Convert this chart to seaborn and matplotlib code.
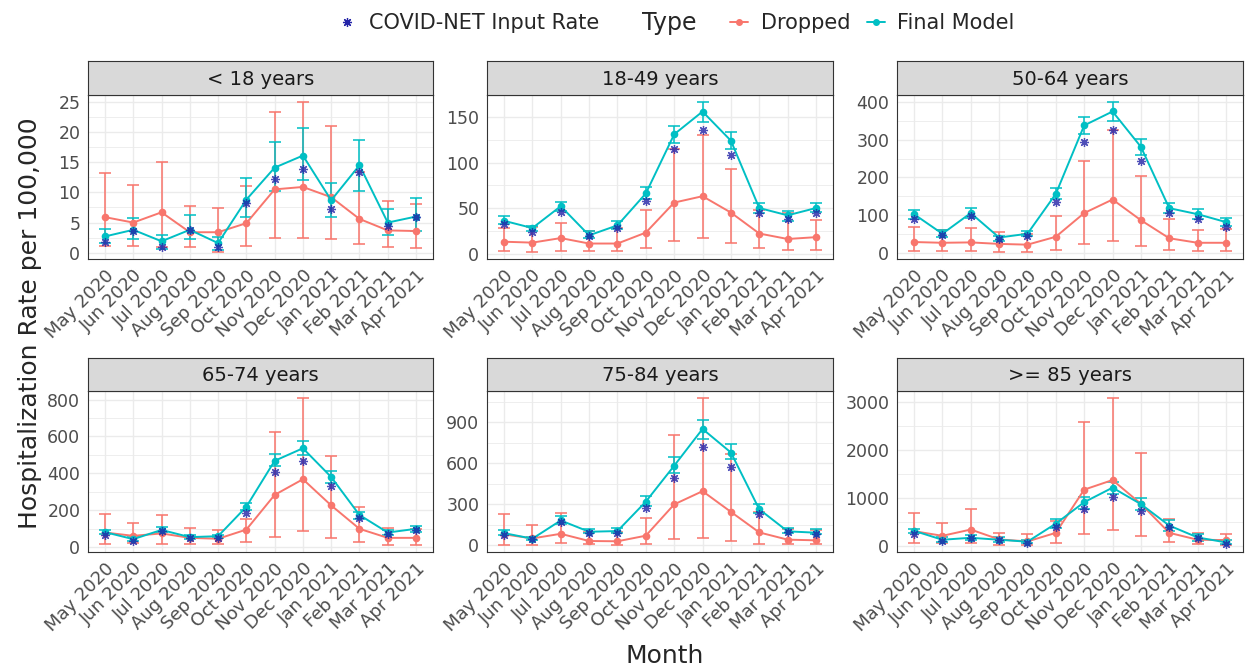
import numpy as np
import pandas as pd
import matplotlib
matplotlib.use('Agg')
import matplotlib.pyplot as plt
import seaborn as sns
from matplotlib.lines import Line2D
from matplotlib.ticker import FixedLocator

# -----------------
# data
# -----------------
months = ['May 2020', 'Jun 2020', 'Jul 2020', 'Aug 2020', 'Sep 2020', 'Oct 2020',
          'Nov 2020', 'Dec 2020', 'Jan 2021', 'Feb 2021', 'Mar 2021', 'Apr 2021']
groups = ['< 18 years', '18-49 years', '50-64 years', '65-74 years', '75-84 years', '>= 85 years']

final_rate = {
    '< 18 years':  [2.7, 3.8, 1.9, 3.8, 1.6, 8.8, 14.1, 16.1, 8.7, 14.5, 5.0, 6.0],
    '18-49 years': [36, 28, 52, 20, 31, 66, 131, 156, 124, 50, 42, 50],
    '50-64 years': [102, 50, 105, 40, 50, 156, 338, 375, 281, 118, 102, 81],
    '65-74 years': [81, 43, 93, 54, 59, 219, 468, 536, 380, 174, 79, 99],
    '75-84 years': [87, 46, 180, 97, 102, 318, 582, 852, 679, 262, 100, 90],
    '>= 85 years': [310, 124, 165, 124, 83, 461, 908, 1211, 867, 420, 172, 69],
}
final_lo = {
    '< 18 years':  [1.6, 2.2, 0.7, 2.2, 0.5, 5.9, 10.2, 12.0, 5.9, 10.2, 2.9, 3.6],
    '18-49 years': [32, 25, 47, 17, 27, 60, 122, 145, 115, 45, 36, 46],
    '50-64 years': [88, 42, 92, 32, 44, 142, 316, 350, 258, 104, 88, 71],
    '65-74 years': [72, 32, 81, 45, 48, 201, 438, 500, 350, 154, 66, 84],
    '75-84 years': [70, 34, 153, 85, 85, 284, 526, 781, 628, 235, 85, 82],
    '>= 85 years': [262, 76, 117, 83, 48, 365, 771, 1073, 743, 310, 103, 27],
}
final_hi = {
    '< 18 years':  [4.0, 5.8, 2.9, 6.3, 2.6, 12.4, 18.4, 20.6, 11.6, 18.7, 7.3, 9.0],
    '18-49 years': [41, 30, 57, 25, 36, 73, 140, 166, 133, 56, 47, 56],
    '50-64 years': [114, 59, 118, 45, 56, 171, 360, 399, 302, 133, 116, 91],
    '65-74 years': [90, 52, 108, 65, 68, 237, 504, 576, 412, 190, 92, 113],
    '75-84 years': [107, 58, 213, 114, 124, 359, 643, 920, 738, 303, 126, 114],
    '>= 85 years': [358, 172, 220, 172, 124, 557, 1019, 1328, 991, 530, 248, 110],
}
dropped_rate = {
    '< 18 years':  [5.9, 5.0, 6.7, 3.4, 3.4, 4.9, 10.5, 10.9, 9.2, 5.6, 3.7, 3.6],
    '18-49 years': [13, 12, 17, 11, 11, 23, 56, 63, 45, 22, 16, 18],
    '50-64 years': [28, 26, 27, 23, 21, 42, 105, 141, 86, 38, 26, 26],
    '65-74 years': [79, 61, 74, 50, 45, 95, 283, 368, 226, 99, 50, 50],
    '75-84 years': [78, 48, 82, 29, 27, 68, 298, 395, 243, 92, 39, 34],
    '>= 85 years': [303, 206, 337, 131, 89, 268, 1170, 1370, 874, 268, 124, 117],
}
dropped_lo = {
    '< 18 years':  [1.2, 1.2, 1.0, 1.0, 0.2, 1.2, 2.5, 2.5, 2.3, 1.5, 1.0, 0.8],
    '18-49 years': [2.6, 2.2, 3.3, 2.6, 2.6, 5.9, 13.6, 17, 11.4, 5.9, 3.7, 4.4],
    '50-64 years': [4.5, 3.6, 4.5, 2.7, 2.7, 8, 23, 30, 18.7, 6.2, 4.5, 4.5],
    '65-74 years': [18, 20, 18, 14, 14, 27, 57, 86, 48, 27, 13, 13],
    '75-84 years': [2, 2, 12, 4, 2, 5, 44, 49, 29, 7, 5, 5],
    '>= 85 years': [62, 55, 62, 21, 21, 62, 248, 337, 193, 76, 34, 21],
}
dropped_hi = {
    '< 18 years':  [13.2, 11.2, 15.0, 7.8, 7.4, 11.0, 23.3, 24.9, 21.0, 13.4, 8.6, 8.0],
    '18-49 years': [28, 29, 34, 25, 28, 48, 115, 130, 93, 48, 44, 37],
    '50-64 years': [67, 59, 66, 54, 50, 97, 243, 327, 203, 88, 59, 62],
    '65-74 years': [179, 133, 172, 104, 95, 150, 622, 807, 495, 217, 102, 100],
    '75-84 years': [231, 148, 238, 95, 97, 201, 805, 1077, 667, 240, 120, 110],
    '>= 85 years': [688, 468, 757, 262, 241, 520, 2588, 3076, 1927, 557, 262, 248],
}
covidnet_rate = {
    '< 18 years':  [1.7, 3.6, 0.9, 3.8, 0.9, 8.2, 12.2, 13.9, 7.2, 13.4, 4.4, 6.0],
    '18-49 years': [32, 24, 46, 19, 28, 58, 115, 136, 108, 44, 38, 45],
    '50-64 years': [90, 47, 97, 37, 45, 135, 294, 326, 243, 104, 90, 69],
    '65-74 years': [63, 32, 86, 47, 50, 185, 407, 468, 334, 156, 72, 92],
    '75-84 years': [75, 41, 165, 85, 90, 269, 493, 718, 570, 226, 92, 78],
    '>= 85 years': [234, 96, 158, 124, 55, 392, 764, 1012, 730, 399, 158, 34],
}
y_ticks = {
    '< 18 years':  [0, 5, 10, 15, 20, 25],
    '18-49 years': [0, 50, 100, 150],
    '50-64 years': [0, 100, 200, 300, 400],
    '65-74 years': [0, 200, 400, 600, 800],
    '75-84 years': [0, 300, 600, 900],
    '>= 85 years': [0, 1000, 2000, 3000],
}

# -----------------
# style
# -----------------
sns.set_style('white')
plt.rcParams['font.family'] = ['DejaVu Sans']

pal = {'Dropped': '#F8766D', 'Final Model': '#00BFC4'}
star_col = '#2424A8'
star_marker = (8, 2, 0)

rows = []
for g in groups:
    for i, m in enumerate(months):
        rows.append({'group': g, 'pos': i, 'Type': 'Dropped', 'rate': dropped_rate[g][i],
                     'lo': dropped_lo[g][i], 'hi': dropped_hi[g][i]})
        rows.append({'group': g, 'pos': i, 'Type': 'Final Model', 'rate': final_rate[g][i],
                     'lo': final_lo[g][i], 'hi': final_hi[g][i]})
df = pd.DataFrame(rows)

fig = plt.figure(figsize=(12.47, 6.71), dpi=100)
W, H = 1247, 671
col_x = [(88, 433), (487, 833), (897, 1243)]
row_y = [(61, 95, 259), (358, 391, 552)]  # strip top, panel top, panel bottom

for k, g in enumerate(groups):
    r, c = divmod(k, 3)
    x0, x1 = col_x[c]
    st, pt, pb = row_y[r]
    ax = fig.add_axes([x0 / W, 1 - pb / H, (x1 - x0) / W, (pb - pt) / H])
    sax = fig.add_axes([x0 / W, 1 - pt / H, (x1 - x0) / W, (pt - st) / H])

    sub = df[df['group'] == g]
    for t in ['Dropped', 'Final Model']:
        d = sub[sub['Type'] == t]
        ax.errorbar(d['pos'], d['rate'], yerr=[d['rate'] - d['lo'], d['hi'] - d['rate']],
                    fmt='none', ecolor=pal[t], elinewidth=1.4, capsize=4, capthick=1.4,
                    alpha=0.8, zorder=2)
    sns.lineplot(data=sub, x='pos', y='rate', hue='Type', palette=pal, marker='o',
                 markersize=5.5, markeredgewidth=0, linewidth=1.4, errorbar=None,
                 legend=False, ax=ax, zorder=3)
    ax.plot(range(len(months)), covidnet_rate[g], ls='none', marker=star_marker,
            color=star_col, ms=6.5, mew=0.9, alpha=0.8, zorder=4)

    vals = np.concatenate([final_lo[g], final_hi[g], dropped_lo[g], dropped_hi[g], covidnet_rate[g]])
    lo, hi = vals.min(), vals.max()
    pad = (hi - lo) * 0.05
    ax.set_ylim(lo - pad, hi + pad)
    ax.set_xlim(-0.6, len(months) - 0.4)

    yt = y_ticks[g]
    ax.yaxis.set_major_locator(FixedLocator(yt))
    step = yt[1] - yt[0]
    ax.yaxis.set_minor_locator(FixedLocator(np.arange(yt[0] - step / 2, yt[-1] + step, step)))
    ax.set_xticks(range(len(months)))
    ax.set_xticklabels(months, rotation=45, ha='right', rotation_mode='anchor')
    ax.tick_params(axis='both', which='major', length=3.5, width=0.8, color='#333333',
                   labelcolor='#4D4D4D', pad=2)
    ax.tick_params(axis='x', labelsize=13)
    ax.tick_params(axis='y', labelsize=12.5)
    ax.tick_params(axis='y', which='minor', length=0)
    ax.grid(True, which='major', color='#EBEBEB', lw=1.0)
    ax.grid(True, which='minor', axis='y', color='#EBEBEB', lw=0.6)
    ax.set_axisbelow(True)
    for s in ax.spines.values():
        s.set_color('#333333')
        s.set_linewidth(0.8)
    ax.set_xlabel('')
    ax.set_ylabel('')

    sax.set_facecolor('#D9D9D9')
    sax.set_xticks([])
    sax.set_yticks([])
    for s in sax.spines.values():
        s.set_color('#333333')
        s.set_linewidth(0.8)
    sax.text(0.5, 0.47, g, ha='center', va='center', fontsize=14, color='#1A1A1A',
             transform=sax.transAxes)

fig.text(0.024, 0.518, 'Hospitalization Rate per 100,000', rotation=90, ha='center',
         va='center', fontsize=18)
fig.text(0.533, 0.022, 'Month', ha='center', va='center', fontsize=18)

# legend: star item, "Type" title, then the two line types
leg_y = 1 - 23 / H
h_star = Line2D([], [], ls='none', marker=star_marker, color=star_col, ms=6.5, mew=0.9)
leg1 = fig.legend([h_star], ['COVID-NET Input Rate'], loc='center right',
                  bbox_to_anchor=(610 / W, leg_y), frameon=False, fontsize=15,
                  handlelength=0.9, handletextpad=0.6, borderpad=0)
fig.text(642 / W, leg_y, 'Type', ha='left', va='center', fontsize=17)
h_types = [Line2D([], [], color=pal[t], marker='o', ms=4, lw=1.4) for t in ['Dropped', 'Final Model']]
fig.legend(h_types, ['Dropped', 'Final Model'], loc='center left',
           bbox_to_anchor=(720 / W, leg_y), ncol=2, frameon=False, fontsize=15,
           handlelength=0.85, handletextpad=0.6, columnspacing=0.8, borderpad=0)

fig.savefig('out.png', dpi=100)
